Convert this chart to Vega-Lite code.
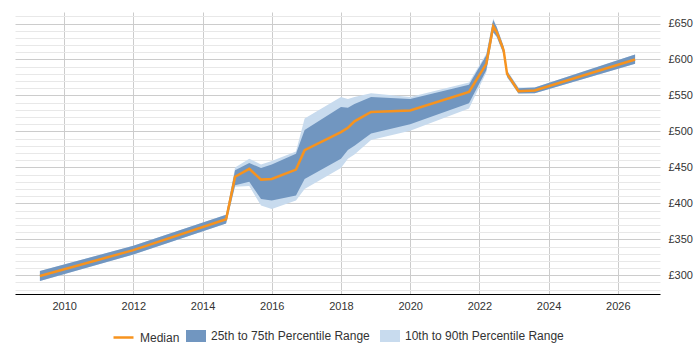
{
  "$schema": "https://vega.github.io/schema/vega-lite/v6.json",
  "width": 645,
  "height": 282,
  "padding": {"left": 15, "top": 10, "right": 5, "bottom": 5},
  "background": "white",
  "config": {
    "font": "Liberation Sans",
    "view": {"stroke": null},
    "legend": {
      "title": null,
      "orient": "none",
      "direction": "horizontal",
      "labelFontSize": 12,
      "labelColor": "#333333",
      "labelOffset": 5,
      "columnPadding": 10,
      "symbolSize": 400
    }
  },
  "data": {
    "values": [
      {"year": 2009.3, "p10": 292, "p25": 292, "median": 299, "p75": 306, "p90": 306},
      {"year": 2012.0, "p10": 329, "p25": 329, "median": 335, "p75": 341, "p90": 341},
      {"year": 2014.68, "p10": 372, "p25": 372, "median": 378, "p75": 384, "p90": 384},
      {"year": 2014.94, "p10": 423, "p25": 425, "median": 437, "p75": 446, "p90": 450},
      {"year": 2015.35, "p10": 424, "p25": 430, "median": 448, "p75": 456, "p90": 462},
      {"year": 2015.69, "p10": 397, "p25": 406, "median": 433, "p75": 449, "p90": 454},
      {"year": 2016.0, "p10": 392, "p25": 404, "median": 434, "p75": 454, "p90": 459},
      {"year": 2016.7, "p10": 404, "p25": 411, "median": 447, "p75": 469, "p90": 472},
      {"year": 2016.95, "p10": 420, "p25": 434, "median": 474, "p75": 502, "p90": 518},
      {"year": 2018.0, "p10": 449, "p25": 462, "median": 499, "p75": 534, "p90": 548},
      {"year": 2018.2, "p10": 462, "p25": 474, "median": 505, "p75": 533, "p90": 545},
      {"year": 2018.39, "p10": 468, "p25": 480, "median": 514, "p75": 538, "p90": 548},
      {"year": 2018.87, "p10": 488, "p25": 497, "median": 527, "p75": 548, "p90": 553},
      {"year": 2020.0, "p10": 501, "p25": 510, "median": 529, "p75": 545, "p90": 548},
      {"year": 2021.7, "p10": 532, "p25": 539, "median": 555, "p75": 565, "p90": 568},
      {"year": 2022.2, "p10": 582, "p25": 585, "median": 594, "p75": 606, "p90": 608},
      {"year": 2022.4, "p10": 637, "p25": 638, "median": 646, "p75": 655, "p90": 657},
      {"year": 2022.5, "p10": 631, "p25": 632, "median": 638, "p75": 645, "p90": 646},
      {"year": 2022.7, "p10": 607, "p25": 608, "median": 613, "p75": 618, "p90": 619},
      {"year": 2022.8, "p10": 575, "p25": 576, "median": 580, "p75": 584, "p90": 585},
      {"year": 2023.13, "p10": 552, "p25": 553, "median": 556, "p75": 560, "p90": 561},
      {"year": 2023.6, "p10": 553, "p25": 553, "median": 557, "p75": 561, "p90": 561},
      {"year": 2026.5, "p10": 594, "p25": 594, "median": 600, "p75": 607, "p90": 607}
    ]
  },
  "encoding": {
    "x": {
      "field": "year",
      "type": "quantitative",
      "scale": {"domain": [2008.58, 2027.22], "nice": false, "zero": false},
      "axis": {
        "title": null,
        "values": [2010, 2012, 2014, 2016, 2018, 2020, 2022, 2024, 2026],
        "tickCount": 100,
        "format": "d",
        "grid": true,
        "gridColor": "#cccccc",
        "ticks": false,
        "domainColor": "#000000",
        "labelFontSize": 11,
        "labelColor": "#333333",
        "labelPadding": 6
      }
    }
  },
  "layer": [
    {
      "mark": {"type": "area", "opacity": 1},
      "encoding": {
        "y": {
          "field": "p10",
          "type": "quantitative",
          "scale": {"domain": [274, 666], "nice": false, "zero": false},
          "axis": {
            "title": null,
            "orient": "right",
            "values": [280, 290, 300, 310, 320, 330, 340, 350, 360, 370, 380, 390, 400, 410, 420, 430, 440, 450, 460, 470, 480, 490, 500, 510, 520, 530, 540, 550, 560, 570, 580, 590, 600, 610, 620, 630, 640, 650, 660],
            "tickCount": 100,
            "labelExpr": "datum.value % 50 === 0 ? '£' + datum.value : ''",
            "labelOverlap": false,
            "labelBound": false,
            "grid": true,
            "gridColor": {"condition": {"test": "datum.value % 50 === 0", "value": "#cccccc"}, "value": "#e8e8e8"},
            "ticks": false,
            "domain": false,
            "labelFontSize": 11,
            "labelColor": "#333333",
            "labelPadding": 8
          }
        },
        "y2": {"field": "p90"},
        "fill": {
          "datum": "10th to 90th Percentile Range",
          "scale": {
            "domain": ["25th to 75th Percentile Range", "10th to 90th Percentile Range"],
            "range": ["#7196c0", "#c8dbee"]
          },
          "legend": {
            "legendX": 171,
            "legendY": 314,
            "symbolType": "M-1,-0.6H1V0.6H-1Z",
            "symbolStrokeWidth": 0
          }
        }
      }
    },
    {
      "mark": {"type": "area", "opacity": 1},
      "encoding": {
        "y": {"field": "p25", "type": "quantitative"},
        "y2": {"field": "p75"},
        "fill": {
          "datum": "25th to 75th Percentile Range",
          "legend": {
            "legendX": 171,
            "legendY": 314,
            "symbolType": "M-1,-0.6H1V0.6H-1Z",
            "symbolStrokeWidth": 0
          }
        }
      }
    },
    {
      "mark": {"type": "line", "strokeWidth": 2.5},
      "encoding": {
        "y": {"field": "median", "type": "quantitative"},
        "stroke": {
          "datum": "Median",
          "scale": {"domain": ["Median"], "range": ["#f7931e"]},
          "legend": {
            "legendX": 97,
            "legendY": 314,
            "symbolType": "stroke",
            "symbolStrokeWidth": 2.5
          }
        }
      }
    }
  ]
}
